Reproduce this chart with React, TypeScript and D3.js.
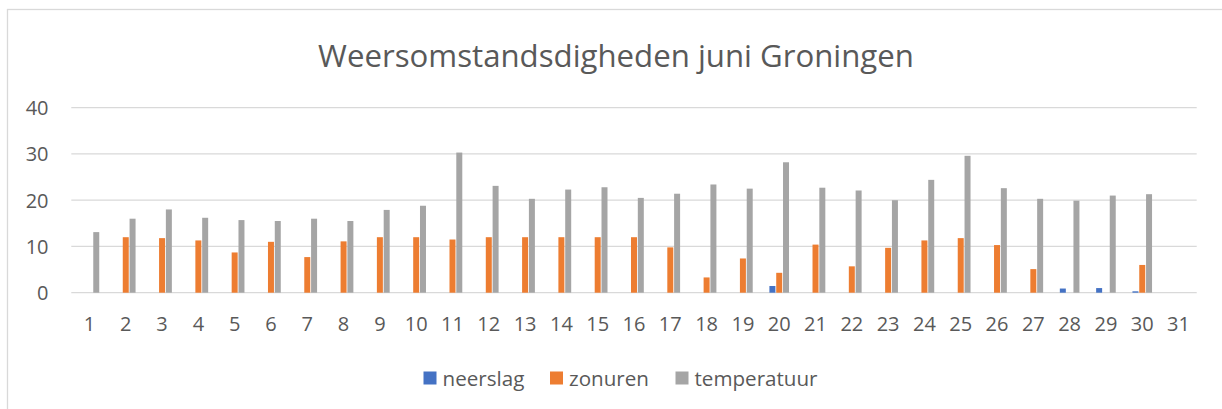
import * as d3 from "d3";
import React, { useEffect, useRef } from "react";

const days = d3.range(1, 32).map(String);
const neerslag = [0, 0, 0, 0, 0, 0, 0, 0, 0, 0, 0, 0, 0, 0, 0, 0, 0, 0, 0, 1.45, 0, 0, 0, 0, 0, 0, 0, 0.9, 1.0, 0.3, 0];
const zonuren = [0, 12.0, 11.8, 11.3, 8.7, 11.0, 7.7, 11.1, 12.0, 12.0, 11.5, 12.0, 12.0, 12.0, 12.0, 12.0, 9.8, 3.3, 7.4, 4.3, 10.4, 5.7, 9.7, 11.3, 11.8, 10.3, 5.1, 0, 0, 6.0, 0];
const temperatuur = [13.1, 16.0, 18.0, 16.2, 15.7, 15.5, 16.0, 15.5, 17.9, 18.8, 30.3, 23.1, 20.3, 22.3, 22.8, 20.5, 21.4, 23.4, 22.5, 28.2, 22.7, 22.1, 20.0, 24.4, 29.6, 22.6, 20.3, 19.9, 21.0, 21.3, 0];
const yTicks = [0, 10, 20, 30, 40];

const seriesNames = ["neerslag", "zonuren", "temperatuur"];
const colors = ["#4472C4", "#ED7D31", "#A5A5A5"];

const App = () => {
    const chartRef = useRef(null);

    useEffect(() => {
        const svg = d3.select(chartRef.current);
        svg.selectAll("*").remove();

        const width = 1222;
        const height = 409;
        const font = "'Open Sans', sans-serif";
        const textColor = "#595959";
        const plot = { left: 71.3, right: 1196.7, top: 107.7, bottom: 292.7 };

        // chart area border
        svg.append("rect")
            .attr("x", 7.5)
            .attr("y", 9.5)
            .attr("width", width)
            .attr("height", height)
            .attr("fill", "white")
            .attr("stroke", "#d9d9d9")
            .attr("stroke-width", 1.3);

        svg.append("text")
            .attr("x", 616)
            .attr("y", 55)
            .attr("text-anchor", "middle")
            .attr("dominant-baseline", "central")
            .style("font-family", font)
            .style("font-size", "31.2px")
            .style("fill", textColor)
            .text("Weersomstandsdigheden juni Groningen");

        const x = d3.scaleBand()
            .domain(days)
            .range([plot.left, plot.right])
            .paddingInner(0.46)
            .paddingOuter(0.23);

        const xInner = d3.scaleBand()
            .domain(seriesNames)
            .range([0, x.bandwidth()])
            .paddingInner(0.12);

        const y = d3.scaleLinear()
            .domain([0, 40])
            .range([plot.bottom, plot.top]);

        // gridlines
        svg.append("g")
            .selectAll("line")
            .data(yTicks)
            .enter()
            .append("line")
            .attr("x1", plot.left)
            .attr("x2", plot.right)
            .attr("y1", d => y(d))
            .attr("y2", d => y(d))
            .style("stroke", "#d9d9d9")
            .style("stroke-width", 1.3);

        svg.append("g")
            .selectAll("text")
            .data(yTicks)
            .enter()
            .append("text")
            .attr("x", 48.5)
            .attr("y", d => y(d))
            .attr("text-anchor", "end")
            .attr("dominant-baseline", "central")
            .style("font-family", font)
            .style("font-size", "20px")
            .style("fill", textColor)
            .text(d => d);

        const series = [neerslag, zonuren, temperatuur];
        series.forEach((values, si) => {
            svg.append("g")
                .selectAll("rect")
                .data(values.map((v, i) => ({ day: days[i], v })).filter(d => d.v > 0))
                .enter()
                .append("rect")
                .attr("x", d => x(d.day) + xInner(seriesNames[si]))
                .attr("y", d => y(d.v))
                .attr("width", xInner.bandwidth())
                .attr("height", d => y(0) - y(d.v))
                .style("fill", colors[si]);
        });

        svg.append("g")
            .selectAll("text")
            .data(days)
            .enter()
            .append("text")
            .attr("x", d => x(d) + x.bandwidth() / 2)
            .attr("y", 323)
            .attr("text-anchor", "middle")
            .attr("dominant-baseline", "central")
            .style("font-family", font)
            .style("font-size", "20px")
            .style("fill", textColor)
            .text(d => d);

        // legend
        const legendX = [423.5, 550, 675.5];
        const legend = svg.append("g");
        seriesNames.forEach((name, i) => {
            legend.append("rect")
                .attr("x", legendX[i])
                .attr("y", 371.5)
                .attr("width", 13)
                .attr("height", 13)
                .style("fill", colors[i]);
            legend.append("text")
                .attr("x", legendX[i] + 19)
                .attr("y", 378)
                .attr("dominant-baseline", "central")
                .style("font-family", font)
                .style("font-size", "20.6px")
                .style("fill", textColor)
                .text(name);
        });
    }, []);

    return (
        <svg
            ref={chartRef}
            width={1222}
            height={409}
            style={{ position: "absolute", left: 0, top: 0, background: "white" }}
        ></svg>
    );
};

export default App;
